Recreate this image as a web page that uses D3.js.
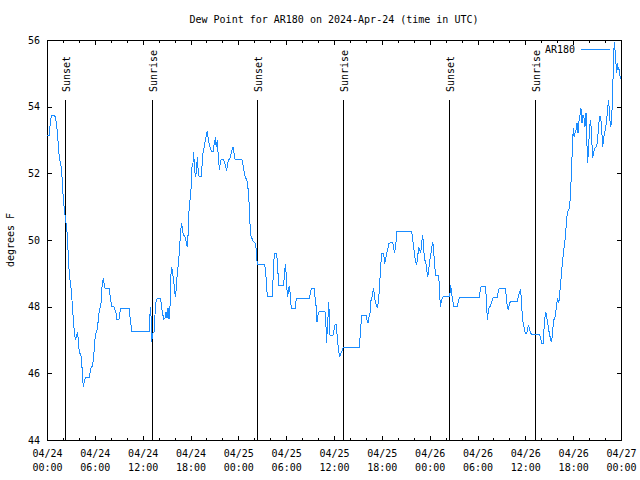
<!DOCTYPE html>
<html>
<head>
<meta charset="utf-8">
<script src="https://cdn.jsdelivr.net/npm/d3@7"></script>
<style>
  body { margin: 0; background: #fff; }
  text { font-family: "DejaVu Sans Mono", "Liberation Mono", monospace; font-size: 10px; fill: #000; }
</style>
</head>
<body>
<script>
// ---- data ----
const chartTitle = "Dew Point for AR180 on 2024-Apr-24 (time in UTC)";
const seriesName = "AR180";
const yLabel = "degrees F";
const yTicks = [44, 46, 48, 50, 52, 54, 56];
const xMajorHours = [0, 6, 12, 18, 24, 30, 36, 42, 48, 54, 60, 66, 72];
const xDateLabels = ["04/24","04/24","04/24","04/24","04/25","04/25","04/25","04/25","04/26","04/26","04/26","04/26","04/27"];
const xTimeLabels = ["00:00","06:00","12:00","18:00","00:00","06:00","12:00","18:00","00:00","06:00","12:00","18:00","00:00"];
const sunEvents = ["Sunset", "Sunrise", "Sunset", "Sunrise", "Sunset", "Sunrise"];
const sunEventHours = [2.3, 13.2, 26.37, 37.18, 50.45, 61.23];
// [hours since 2024-04-24 00:00 UTC, dew point °F]
const dewPoint = [
[0,53.13],[0.29,53.13],[0.35,53.3],[0.42,53.6],[0.58,53.73],[0.92,53.73],[1.05,53.7],[1.21,53.44],[1.34,53.13],[1.46,52.65],[1.59,52.43],[1.84,52.1],[1.97,51.5],[2.09,51.1],[2.2,50.9],[2.34,50.55],[2.47,50.4],[2.59,49.95],[2.72,49.28],[2.84,48.88],[2.97,48.68],[3.09,48.35],[3.22,47.9],[3.35,47.45],[3.47,47.15],[3.6,47.0],[3.72,47.15],[3.85,47.25],[3.97,46.8],[4.1,46.6],[4.22,46.6],[4.35,46.35],[4.47,45.85],[4.56,45.6],[4.68,45.75],[4.81,45.88],[5.31,45.88],[5.39,46.0],[5.52,46.15],[5.69,46.22],[5.85,46.45],[5.98,46.95],[6.1,47.18],[6.36,47.35],[6.44,47.7],[6.56,47.85],[6.77,48.1],[6.9,48.6],[7.07,48.85],[7.15,48.7],[7.28,48.55],[7.78,48.55],[7.9,48.35],[8.03,48.15],[8.15,48.0],[8.4,48.0],[8.66,47.8],[8.78,47.62],[9.03,47.62],[9.16,47.85],[9.28,47.95],[10.33,47.95],[10.41,47.7],[10.54,47.45],[10.62,47.25],[12.84,47.25],[12.96,48.0],[13.05,47.7],[13.13,46.95],[13.25,47.2],[13.46,47.25],[13.59,48.0],[13.71,48.2],[13.84,48.25],[14.26,48.25],[14.38,47.95],[14.51,47.8],[14.63,47.62],[14.8,47.65],[14.93,47.85],[15.05,47.65],[15.18,47.95],[15.3,47.62],[15.43,48.02],[15.51,48.85],[15.64,49.2],[15.76,49.0],[15.89,48.8],[16.01,48.45],[16.14,48.3],[16.27,48.8],[16.39,49.1],[16.52,49.4],[16.64,49.8],[16.77,50.3],[16.89,50.5],[17.02,50.25],[17.14,50.15],[17.39,50.05],[17.52,49.85],[17.64,49.78],[17.77,50.75],[17.9,51.1],
[18.06,51.5],[18.19,52.2],[18.31,52.3],[18.4,52.65],[18.48,52.2],[18.61,51.9],[18.73,52.0],[18.86,52.5],[18.98,52.0],[19.11,51.9],[19.36,51.9],[19.44,52.2],[19.57,52.6],[19.73,52.8],[19.86,53.0],[19.99,53.15],[20.11,53.28],[20.24,53.0],[20.36,52.85],[20.49,52.75],[20.61,52.67],[20.86,52.67],[20.99,52.95],[21.11,53.02],[21.24,52.8],[21.36,53.0],[21.49,52.5],[21.62,52.1],[21.74,52.3],[21.87,52.43],[22.12,52.43],[22.24,52.35],[22.37,52.25],[22.54,52.08],[22.66,52.3],[22.79,52.4],[22.91,52.43],[23.04,52.55],[23.21,52.7],[23.33,52.78],[23.46,52.6],[23.58,52.43],[24.42,52.43],[24.54,52.32],[24.67,52.15],[24.79,51.95],[24.92,51.85],[25.05,51.83],[25.17,51.65],[25.3,51.35],[25.42,50.75],[25.51,50.2],[25.63,50.1],[25.76,50.02],[25.88,49.95],[26.09,49.92],[26.22,49.75],[26.3,49.45],[26.38,49.28],[27.3,49.28],[27.43,49.05],[27.55,48.6],[27.64,48.32],[28.26,48.32],[28.39,49.0],[28.51,49.6],[28.81,49.6],[28.93,49.2],[29.06,48.65],[29.69,48.65],[29.81,49.1],[29.94,49.28],[30.06,48.6],[30.19,48.3],[30.31,48.55],[30.44,48.62],
[30.52,48.3],[30.64,47.95],[31.15,47.95],[31.27,48.25],[32.9,48.25],[33.03,48.4],[33.15,48.55],[33.49,48.55],[33.62,48.3],[33.74,48.05],[33.87,47.55],[33.99,47.75],[34.12,47.85],[34.87,47.85],[35.0,47.4],[35.08,46.9],[35.16,47.4],[35.25,47.7],[35.34,48.15],[35.41,47.7],[35.5,47.15],[35.87,47.15],[36.0,47.3],[36.13,47.45],[36.25,47.48],[36.34,47.3],[36.46,46.95],[36.59,46.65],[36.72,46.48],[36.84,46.6],[36.97,46.65],[37.09,46.75],[37.25,46.78],[39.14,46.78],[39.26,47.05],[39.39,47.5],[39.51,47.75],[40.01,47.75],[40.14,47.6],[40.27,47.5],[40.39,47.7],[40.52,47.82],[40.64,48.18],[40.77,48.3],[40.89,48.45],[40.98,48.55],[41.06,48.3],[41.18,48.15],[41.31,48.05],[41.43,47.95],[41.56,48.15],[41.68,48.45],[41.77,48.85],[41.9,49.35],[42.02,49.6],[42.23,49.6],[42.36,49.28],[42.49,49.45],[42.61,49.6],[42.74,49.72],[42.86,49.9],
[43.36,49.93],[43.49,49.75],[43.61,49.6],[43.69,49.8],[43.78,49.93],[43.9,50.25],[45.75,50.25],[45.87,50.0],[46.0,49.8],[46.12,49.5],[46.25,49.35],[46.37,49.25],[46.5,49.5],[46.62,49.8],[46.75,49.7],[46.88,49.6],[47.0,49.95],[47.13,50.15],[47.25,49.7],[47.38,49.4],[47.5,49.35],[47.63,49.1],[47.75,48.88],[47.88,49.1],[48.0,49.35],[48.13,49.55],[48.26,49.75],[48.38,49.95],[48.51,49.68],[48.63,49.2],[48.76,48.95],[49.08,48.95],[49.21,48.7],[49.33,48.0],[49.46,48.15],[49.58,48.25],[49.71,48.32],[50.34,48.32],[50.51,48.3],[50.64,48.65],[50.76,48.4],[50.89,48.2],[51.02,48.0],[51.47,48.0],[51.59,48.15],[51.72,48.28],[54.23,48.28],[54.35,48.5],[54.48,48.62],[54.98,48.62],[55.1,48.3],[55.23,47.6],[55.36,47.85],[55.48,48.0],[55.61,48.0],[55.73,48.1],[55.86,48.2],[55.98,48.27],[56.48,48.27],[56.61,48.45],[56.73,48.55],[57.49,48.55],[57.61,48.3],[57.74,48.0],[57.86,47.9],[57.99,48.05],[58.11,48.15],[58.99,48.15],[59.12,48.3],[59.24,48.4],[59.37,48.48],[59.49,48.3],[59.62,47.7],[59.75,47.45],[59.87,47.35],[60.0,47.2],[60.17,47.2],[60.3,47.35],[60.42,47.45],[60.55,47.3],[60.67,47.2],[60.8,47.17],[61.8,47.17],[61.93,47.05],[62.05,46.9],[62.22,46.9],[62.3,47.2],[62.43,47.6],[62.55,47.85],[62.68,47.7],[62.81,47.5],[62.93,47.3],[63.06,47.15],[63.18,47.0],[63.31,46.95],[63.43,47.3],[63.56,47.6],[63.68,47.65],[63.81,47.8],[63.94,48.1],[64.06,48.25],[64.19,48.1],[64.31,48.4],[64.44,48.7],[64.56,49.1],[64.69,49.4],[64.81,49.7],[64.94,49.9],[65.06,50.2],[65.19,50.65],[65.31,50.85],[65.44,50.9],[65.56,51.0],[65.69,51.5],[65.82,52.25],[65.94,53.0],[66.02,53.35],[66.11,53.1],[66.23,53.2],[66.36,53.3],[66.48,53.5],[66.61,53.2],[66.73,53.55],[66.86,53.75],[66.98,53.95],[67.11,53.5],[67.23,53.75],[67.36,53.65],[67.48,53.4],[67.61,53.8],[67.74,52.8],[67.82,52.3],[67.95,52.85],[68.07,53.4],[68.2,53.6],[68.33,53.0],[68.45,52.45],[68.58,52.65],[68.7,52.75],[68.83,52.78],[68.95,52.8],[69.08,53.05],[69.2,53.45],[69.33,53.72],[69.45,53.72],[69.58,53.3],[69.71,52.8],[69.83,53.1],[69.96,53.2],[70.08,53.4],[70.21,53.6],[70.33,54.0],[70.46,54.2],[70.58,53.65],[70.71,53.4],[70.83,53.6],[70.96,54.5],[71.08,55.5],[71.16,55.95],[71.25,55.7],[71.34,55.4],[71.46,55.0],[71.54,55.3],[71.62,55.1],[71.71,55.2],[71.84,54.95],[71.96,54.82]
];

// ---- layout ----
const W = 640, H = 480;
const L = 47, R = 621, T = 40, B = 440;
const lineColor = "#1a8cff";

const svg = d3.select("body").append("svg").attr("width", W).attr("height", H);
svg.append("rect").attr("width", W).attr("height", H).attr("fill", "#fff");

const x = d3.scaleLinear().domain([0, 72]).range([L, R]);
const y = d3.scaleLinear().domain([44, 56]).range([B, T]);

const xMinorHours = d3.range(0, 73, 2).filter(h => h % 6 !== 0);

// bottom axis (major + labels)
const gB = svg.append("g").attr("transform", `translate(0,${B})`)
  .call(d3.axisBottom(x).tickValues(xMajorHours).tickSizeInner(-4.5).tickSizeOuter(0).tickFormat(""));
gB.selectAll(".tick text").each(function(d, i) {
  const t = d3.select(this).attr("y", null).attr("dy", null);
  t.append("tspan").attr("x", 0).attr("y", 17).text(xDateLabels[i]);
  t.append("tspan").attr("x", 0).attr("y", 31).text(xTimeLabels[i]);
});
svg.append("g").attr("transform", `translate(0,${B})`)
  .call(d3.axisBottom(x).tickValues(xMinorHours).tickSizeInner(-2.5).tickSizeOuter(0).tickFormat(""));
// top axis mirrored
svg.append("g").attr("transform", `translate(0,${T})`)
  .call(d3.axisTop(x).tickValues(xMajorHours).tickSizeInner(-4.5).tickSizeOuter(0).tickFormat(""));
svg.append("g").attr("transform", `translate(0,${T})`)
  .call(d3.axisTop(x).tickValues(xMinorHours).tickSizeInner(-2.5).tickSizeOuter(0).tickFormat(""));
// left axis
svg.append("g").attr("transform", `translate(${L},0)`)
  .call(d3.axisLeft(y).tickValues(yTicks).tickSizeInner(-4.5).tickSizeOuter(0).tickPadding(7).tickFormat(d3.format("d")));
// right axis mirrored
svg.append("g").attr("transform", `translate(${R},0)`)
  .call(d3.axisRight(y).tickValues(yTicks).tickSizeInner(-4.5).tickSizeOuter(0).tickFormat(""));

svg.selectAll(".domain").remove();
svg.selectAll(".tick line").attr("stroke", "#000").attr("shape-rendering", "crispEdges");
svg.selectAll("g text").style("font-family", "'DejaVu Sans Mono', monospace").style("font-size", "10px").attr("fill", "#000");

// frame
svg.append("rect").attr("x", L).attr("y", T).attr("width", R - L).attr("height", B - T)
  .attr("fill", "none").attr("stroke", "#000").attr("shape-rendering", "crispEdges");

// sunrise / sunset markers
const ev = svg.append("g");
sunEventHours.forEach((h, i) => {
  const px = x(h);
  ev.append("line").attr("x1", px).attr("x2", px).attr("y1", 100).attr("y2", B)
    .attr("stroke", "#000").attr("shape-rendering", "crispEdges");
  ev.append("text").attr("transform", `translate(${px + 5},92) rotate(-90)`)
    .attr("text-anchor", "start").text(sunEvents[i]);
});

// data line
const line = d3.line().x(d => x(d[0])).y(d => y(d[1]));
svg.append("path").datum(dewPoint).attr("d", line)
  .attr("fill", "none").attr("stroke", lineColor).attr("stroke-width", 1)
  .attr("shape-rendering", "crispEdges");

// title
svg.append("text").attr("x", (L + R) / 2).attr("y", 23).attr("text-anchor", "middle").text(chartTitle);
// y label
svg.append("text").attr("transform", `translate(14,240) rotate(-90)`).attr("text-anchor", "middle").text(yLabel);

// legend
svg.append("text").attr("x", 575).attr("y", 53).attr("text-anchor", "end").text(seriesName);
svg.append("line").attr("x1", 581).attr("x2", 610).attr("y1", 49).attr("y2", 49)
  .attr("stroke", lineColor).attr("shape-rendering", "crispEdges");
</script>
</body>
</html>
